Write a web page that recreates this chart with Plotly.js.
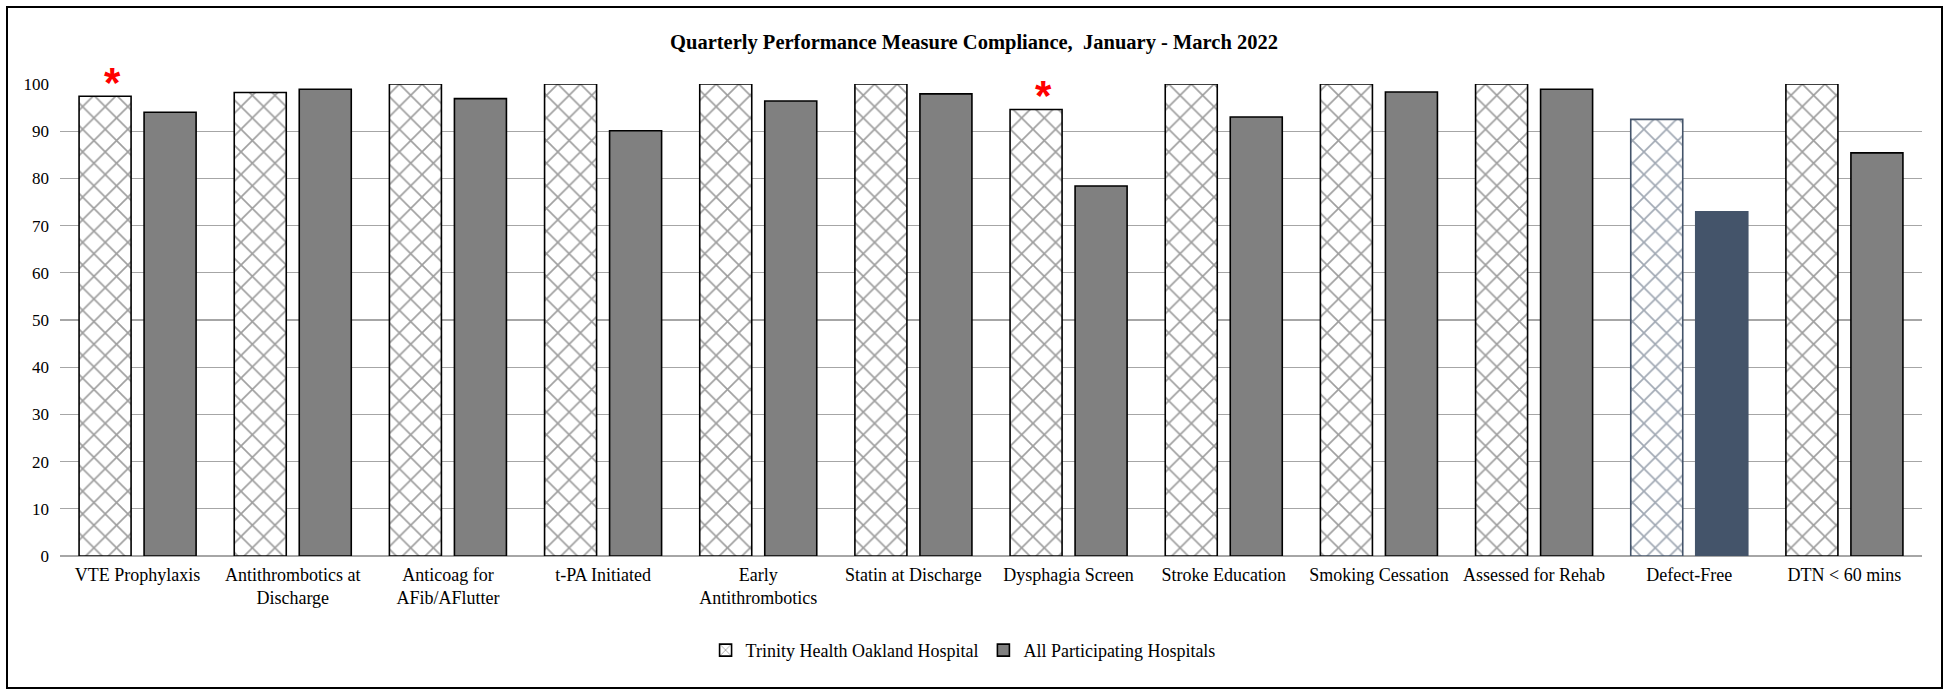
<!DOCTYPE html>
<html>
<head>
<meta charset="utf-8">
<script src="https://cdn.plot.ly/plotly-3.0.1.min.js"></script>
<style>
  html, body { margin: 0; padding: 0; background: #ffffff; }
  #chart { position: absolute; left: 0; top: 0; width: 1948px; height: 691px; }
  #frame { position: absolute; left: 6px; top: 6px; width: 1937px; height: 683px;
           box-sizing: border-box; border: 2px solid #000; pointer-events: none; }
</style>
</head>
<body>
<div id="chart"></div>
<div id="frame"></div>
<script>
// ---- data ----
const categories = [
  "VTE Prophylaxis",
  "Antithrombotics at<br>Discharge",
  "Anticoag for<br>AFib/AFlutter",
  "t-PA Initiated",
  "Early<br>Antithrombotics",
  "Statin at Discharge",
  "Dysphagia Screen",
  "Stroke Education",
  "Smoking Cessation",
  "Assessed for Rehab",
  "Defect-Free",
  "DTN &lt; 60 mins"
];
const trinityValues = [97.4, 98.2, 100, 100, 100, 100, 94.6, 100, 100, 100, 92.5, 100];
const allValues     = [94.0, 98.9, 96.9, 90.1, 96.4, 97.9, 78.4, 93.0, 98.3, 98.9, 72.9, 85.4];
const starredCategories = ["VTE Prophylaxis", "Dysphagia Screen"];
const highlightCategory = "Defect-Free";
const yTickValues = [0, 10, 20, 30, 40, 50, 60, 70, 80, 90, 100];
const seriesNames = ["Trinity Health Oakland Hospital", "All Participating Hospitals"];
const chartTitle = "Quarterly Performance Measure Compliance, &nbsp;January - March 2022";

// ---- styling ----
const navy = "#44546A";
const hatchFg = categories.map(c => c === highlightCategory ? navy : "#404040");
const trinityLine = categories.map(c => c === highlightCategory ? navy : "#000000");
const allFill = categories.map(c => c === highlightCategory ? navy : "#808080");
const allLine = categories.map(c => c === highlightCategory ? navy : "#000000");
const serif = "Liberation Serif, Times New Roman, serif";

const traces = [
  {
    type: "bar",
    name: seriesNames[0],
    x: categories,
    y: trinityValues,
    marker: {
      color: "#ffffff",
      line: { color: trinityLine, width: 1.6 },
      pattern: { shape: "x", fgcolor: hatchFg, bgcolor: "#ffffff", size: 16, solidity: 0.2, fillmode: "overlay" }
    },
    hoverinfo: "x+y"
  },
  {
    type: "bar",
    name: seriesNames[1],
    x: categories,
    y: allValues,
    marker: {
      color: allFill,
      line: { color: allLine, width: 1.6 }
    },
    hoverinfo: "x+y"
  }
];

const annotations = starredCategories.map(c => {
  const i = categories.indexOf(c);
  return {
    x: c, y: trinityValues[i], xref: "x", yref: "y",
    text: "<b>*</b>", showarrow: false,
    xanchor: "center", yanchor: "middle",
    xshift: -25, yshift: 14,
    font: { family: "Liberation Sans, Arial, sans-serif", size: 42, color: "#ff0000" }
  };
});

const layout = {
  width: 1948, height: 691,
  margin: { l: 60, r: 26, t: 84, b: 135 },
  paper_bgcolor: "#ffffff", plot_bgcolor: "#ffffff",
  title: {
    text: "<b>" + chartTitle + "</b>",
    x: 0.5, xref: "container", xanchor: "center",
    y: 0.94, yref: "container", yanchor: "middle",
    font: { family: serif, size: 20.5, color: "#000000" }
  },
  barmode: "group",
  bargap: 0.162,
  bargroupgap: 0.2,
  xaxis: {
    type: "category",
    tickfont: { family: serif, size: 18, color: "#000000" },
    showgrid: false, showline: false, ticks: "",
    ticklabelstandoff: 6
  },
  yaxis: {
    range: [0, 100], autorange: false,
    tickvals: yTickValues,
    tickfont: { family: serif, size: 17, color: "#000000" },
    showgrid: true, gridcolor: "#a6a6a6", gridwidth: 1.4,
    zeroline: true, zerolinecolor: "#a6a6a6", zerolinewidth: 1.4,
    showline: false, ticks: "",
    ticklabelstandoff: 10
  },
  legend: {
    orientation: "h",
    x: 0.485, xanchor: "center",
    y: -0.2, yanchor: "middle",
    font: { family: serif, size: 18, color: "#000000" },
    traceorder: "normal"
  },
  annotations: annotations,
  showlegend: true
};

Plotly.newPlot("chart", traces, layout, { displayModeBar: false, staticPlot: true });
</script>
</body>
</html>
